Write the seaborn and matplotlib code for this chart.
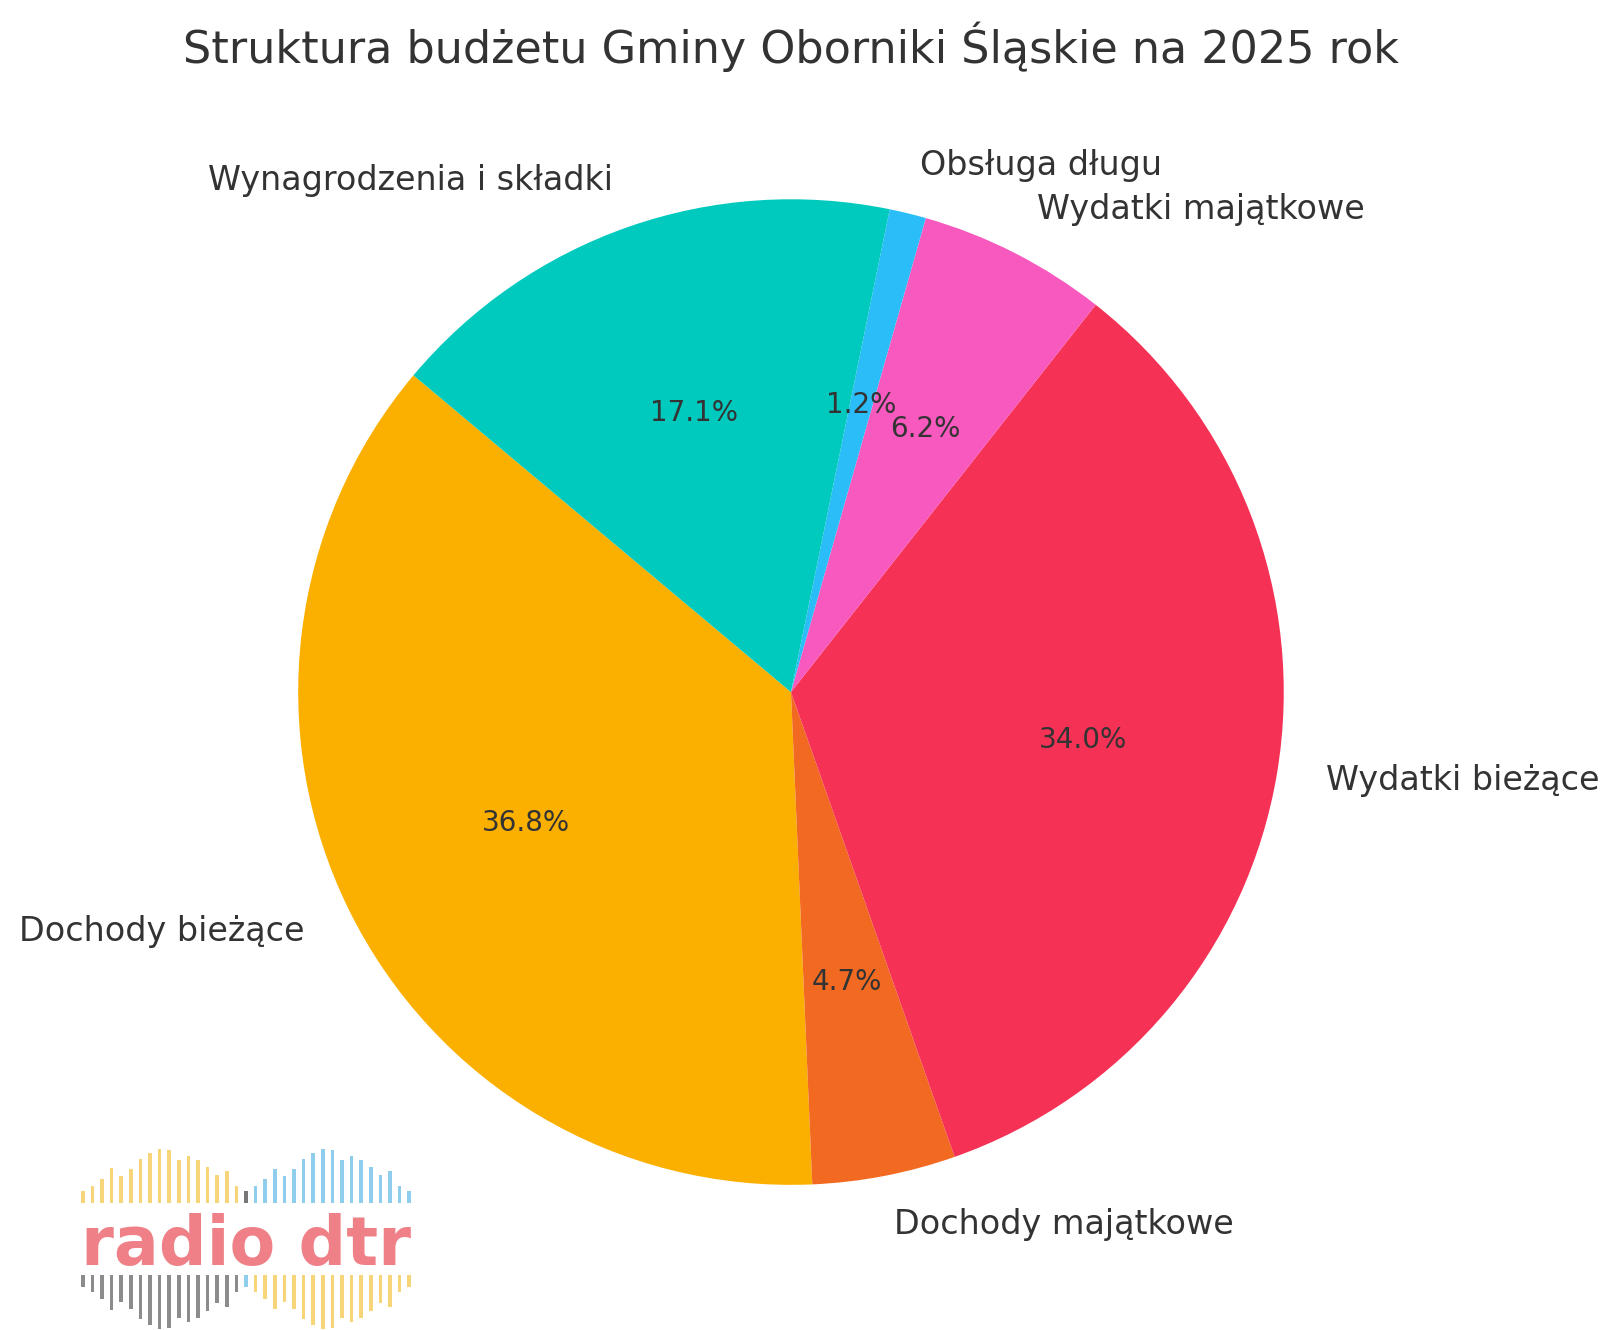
import matplotlib
matplotlib.use("Agg")
import matplotlib.pyplot as plt
import seaborn as sns

sns.set_style("white")
plt.rcParams['font.family'] = ['DejaVu Sans']
plt.rcParams['text.color'] = '#333333'

# budget structure (%)
categories = ['Dochody bieżące', 'Dochody majątkowe', 'Wydatki bieżące',
              'Wydatki majątkowe', 'Obsługa długu', 'Wynagrodzenia i składki']
shares = [36.8, 4.7, 34.0, 6.2, 1.2, 17.1]
colors = ['#FBB000', '#F26A22', '#F53256', '#F859BF', '#2BBDF7', '#00CABE']

# logo equaliser bars (heights)
logo_top = [12, 17, 24, 35, 27, 34, 44, 50, 54, 53, 43, 47, 43, 36, 28, 32, 17,
            12,
            17, 24, 34, 27, 34, 44, 50, 54, 53, 43, 47, 43, 36, 28, 32, 17, 12]
logo_top_colors = ['#F9D57A'] * 17 + ['#777777'] + ['#8ECDEB'] * 17
logo_bot_colors = ['#8C8C8C'] * 17 + ['#8ECDEB'] + ['#F9D57A'] * 17

fig = plt.figure(figsize=(8.1, 6.65), dpi=200)
ax = fig.add_axes([0.108, 0.0165, 0.7605, 0.9263])
ax.pie(shares, labels=categories, colors=colors, autopct='%1.1f%%',
       startangle=140, wedgeprops={'linewidth': 0},
       textprops={'color': '#333333', 'fontsize': 12})
for t in ax.texts:
    if t.get_text().endswith('%'):
        t.set_fontsize(10)

fig.text(0.488, 0.965, 'Struktura budżetu Gminy Oborniki Śląskie na 2025 rok',
         ha='center', va='center', fontsize=16, color='#333333')

# logo
lax = fig.add_axes([78 / 1620, 0, 336 / 1620, 182 / 1330])
idx = list(range(len(logo_top)))
lax.bar(idx, logo_top, bottom=36, width=0.36, color=logo_top_colors, linewidth=0)
lax.bar(idx, [-h for h in logo_top], bottom=-36, width=0.36,
        color=logo_bot_colors, linewidth=0)
lax.text(17, -26, 'radio dtr', ha='center', va='baseline', fontsize=24,
         fontweight='heavy', color='#EF8087')
lax.set_xlim(-0.5, 34.5)
lax.set_ylim(-91, 91)
lax.axis('off')

fig.savefig('out.png', dpi=200)
